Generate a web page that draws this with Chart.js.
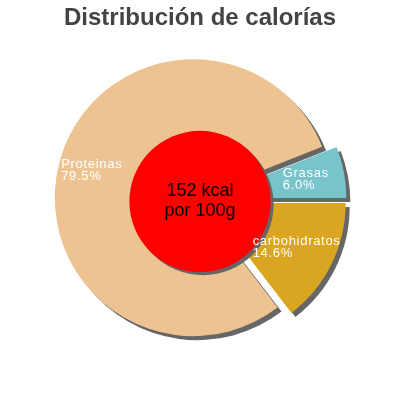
<!DOCTYPE html>
<html><head><meta charset="utf-8">
<script src="https://cdn.jsdelivr.net/npm/chart.js@4/dist/chart.umd.min.js"></script>
<style>html,body{margin:0;padding:0;background:#fff}#w{width:400px;height:400px;position:relative}</style>
</head><body><div id="w"><canvas id="c"></canvas></div>
<script>
const titleText = "Distribución de calorías";
const categories = ["carbohidratos", "Proteinas", "Grasas"];
const values = [14.6, 79.5, 6.0];
const percentLabels = ["14.6%", "79.5%", "6.0%"];
const centerLines = ["152 kcal", "por 100g"];
const colors = ["#DAA520", "#EDC491", "#77C4CB"];
const explode = [8, 7, 8];

function midAngle(arc) { return (arc.startAngle + arc.endAngle) / 2; }

const explodePlugin = {
  id: 'explode',
  beforeDatasetDraw(chart, args) {
    const ctx = chart.ctx;
    const meta = chart.getDatasetMeta(args.index);
    meta.data.forEach((arc, i) => {
      const m = midAngle(arc);
      ctx.save();
      ctx.shadowColor = '#666666';
      ctx.shadowOffsetX = 4;
      ctx.shadowOffsetY = 4;
      ctx.shadowBlur = 0;
      ctx.translate(Math.cos(m) * explode[i], Math.sin(m) * explode[i]);
      arc.draw(ctx, chart.chartArea);
      ctx.restore();
    });
    return false;
  }
};

const overlayPlugin = {
  id: 'overlay',
  afterDatasetsDraw(chart) {
    const ctx = chart.ctx;
    const meta = chart.getDatasetMeta(0);
    const a0 = meta.data[0];
    const cx = a0.x, cy = a0.y, R = a0.outerRadius;
    // center circle
    ctx.save();
    ctx.shadowColor = '#666666';
    ctx.shadowOffsetX = 3;
    ctx.shadowOffsetY = 3;
    ctx.shadowBlur = 0;
    ctx.beginPath();
    ctx.arc(cx, cy + 2, R * 0.51, 0, Math.PI * 2);
    ctx.fillStyle = '#FF0000';
    ctx.fill();
    ctx.restore();
    ctx.save();
    ctx.fillStyle = '#000000';
    ctx.font = '18px "Liberation Sans", Arial, sans-serif';
    ctx.textAlign = 'center';
    ctx.textBaseline = 'alphabetic';
    ctx.fillText(centerLines[0], cx, cy - 4);
    ctx.fillText(centerLines[1], cx, cy + 16);
    ctx.restore();
    // labels
    ctx.save();
    ctx.font = '13px "Liberation Sans", Arial, sans-serif';
    ctx.letterSpacing = '0.7px';
    ctx.fillStyle = '#ffffff';
    ctx.textBaseline = 'top';
    ctx.textAlign = 'left';
    meta.data.forEach((arc, i) => {
      const m = midAngle(arc);
      const r = i === 1 ? 0.76 * R : 0.72 * R;
      const px = cx + Math.cos(m) * (explode[i] + r);
      const py = cy + Math.sin(m) * (explode[i] + r);
      const w = Math.max(ctx.measureText(categories[i]).width, ctx.measureText(percentLabels[i]).width);
      const lx = px - w / 2, ly = py - 12;
      ctx.fillText(categories[i], lx, ly);
      ctx.fillText(percentLabels[i], lx, ly + 12);
    });
    ctx.restore();
    // title
    ctx.save();
    ctx.fillStyle = '#444444';
    ctx.font = 'bold 24px "Liberation Sans", Arial, sans-serif';
    ctx.textAlign = 'center';
    ctx.textBaseline = 'alphabetic';
    ctx.fillText(titleText, 200, 25);
    ctx.restore();
  }
};

new Chart(document.getElementById('c'), {
  type: 'pie',
  data: {
    labels: categories,
    datasets: [{
      data: values,
      backgroundColor: colors,
      borderWidth: 0,
      offset: 0,
      hoverOffset: 0
    }]
  },
  options: {
    responsive: true,
    maintainAspectRatio: false,
    animation: false,
    events: [],
    rotation: 90,
    layout: { padding: { left: 61.5, right: 61.5, top: 61, bottom: 62 } },
    plugins: { legend: { display: false }, tooltip: { enabled: false }, title: { display: false } }
  },
  plugins: [explodePlugin, overlayPlugin]
});
</script>
</body></html>
